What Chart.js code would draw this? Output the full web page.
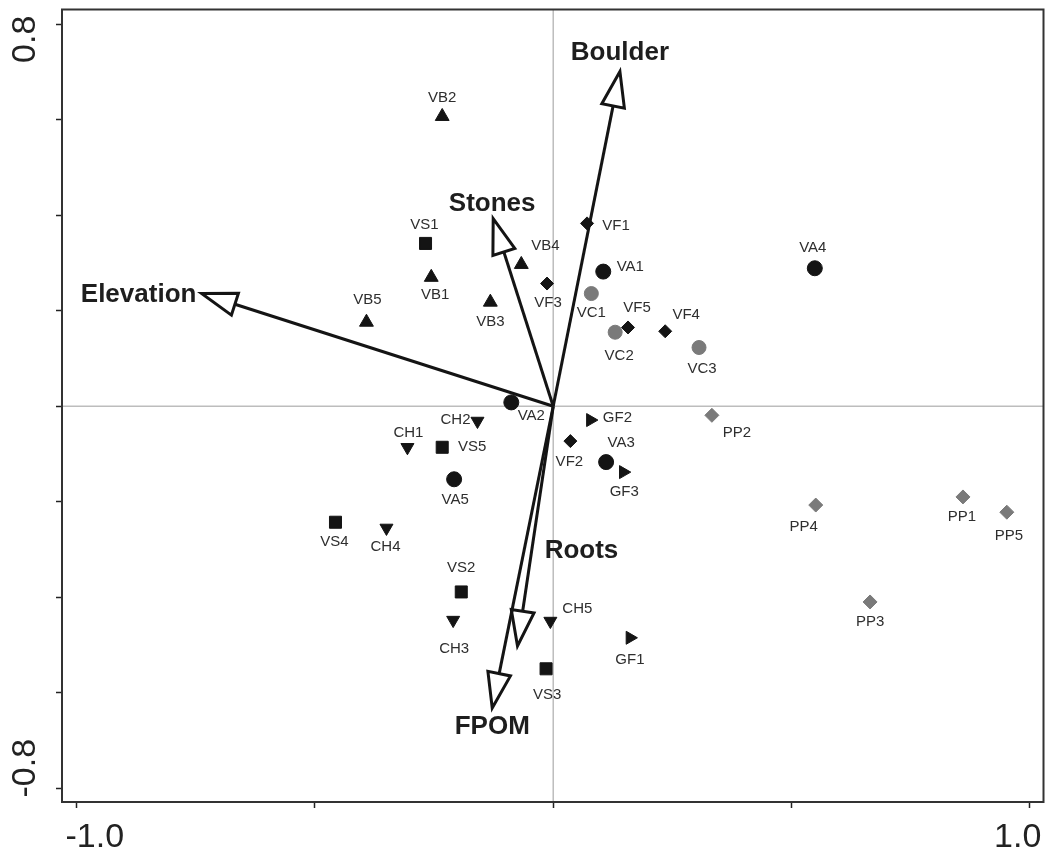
<!DOCTYPE html>
<html>
<head>
<meta charset="utf-8">
<script src="https://cdn.jsdelivr.net/npm/chart.js@4.4.1/dist/chart.umd.min.js"></script>
<style>
  html, body { margin: 0; padding: 0; background: #fff; }
  #wrap { width: 1053px; height: 858px; }
</style>
</head>
<body>
<div id="wrap"><canvas id="myChart" width="1053" height="858"></canvas></div>
<script>
// site scores, one group of arrays per site type
const vaNames = ["VA1", "VA2", "VA3", "VA4", "VA5"];
const vaX = [0.105, -0.088, 0.111, 0.549, -0.208];
const vaY = [0.282, 0.008, -0.117, 0.289, -0.153];

const vbNames = ["VB1", "VB2", "VB3", "VB4", "VB5"];
const vbX = [-0.256, -0.233, -0.132, -0.067, -0.392];
const vbY = [0.270, 0.607, 0.218, 0.297, 0.176];

const vsNames = ["VS1", "VS2", "VS3", "VS4", "VS5"];
const vsX = [-0.268, -0.193, -0.015, -0.457, -0.233];
const vsY = [0.341, -0.389, -0.550, -0.243, -0.086];

const vfNames = ["VF1", "VF2", "VF3", "VF4", "VF5"];
const vfX = [0.071, 0.036, -0.013, 0.235, 0.157];
const vfY = [0.383, -0.073, 0.257, 0.157, 0.165];

const vcNames = ["VC1", "VC2", "VC3"];
const vcX = [0.080, 0.130, 0.306];
const vcY = [0.236, 0.155, 0.123];

const ppNames = ["PP1", "PP2", "PP3", "PP4", "PP5"];
const ppX = [0.860, 0.333, 0.665, 0.551, 0.952];
const ppY = [-0.190, -0.019, -0.410, -0.207, -0.222];

const chNames = ["CH1", "CH2", "CH3", "CH4", "CH5"];
const chX = [-0.306, -0.159, -0.210, -0.350, -0.006];
const chY = [-0.086, -0.031, -0.448, -0.255, -0.450];

const gfNames = ["GF1", "GF2", "GF3"];
const gfX = [0.161, 0.078, 0.147];
const gfY = [-0.485, -0.029, -0.138];

// environmental vectors
const envNames = ["Boulder", "Stones", "Elevation", "Roots", "FPOM"];
const envX = [0.140, -0.126, -0.738, -0.075, -0.128];
const envY = [0.701, 0.393, 0.236, -0.502, -0.632];

// tick marks and the labelled ends
const xTicks = [-1.0, -0.5, 0, 0.5, 1.0];
const yTicks = [-0.8, -0.6, -0.4, -0.2, 0, 0.2, 0.4, 0.6, 0.8];
const xTickLabels = ["-1.0", "1.0"];
const yTickLabels = ["0.8", "-0.8"];

// label placement (pixel offset of label centre from the mark)
const siteLabelOffset = {
  VA1: [27, -5], VA2: [20, 13], VA3: [15, -19], VA4: [-2, -20], VA5: [1, 21],
  VB1: [4, 18], VB2: [0, -19], VB3: [0, 20], VB4: [24, -19], VB5: [1, -22],
  VS1: [-1, -19], VS2: [0, -24], VS3: [1, 26], VS4: [-1, 20], VS5: [30, 0],
  VF1: [29, 2], VF2: [-1, 21], VF3: [1, 19], VF4: [21, -16], VF5: [9, -20],
  VC1: [0, 19], VC2: [4, 24], VC3: [3, 21],
  PP1: [-1, 20], PP2: [25, 18], PP3: [0, 20], PP4: [-12, 22], PP5: [2, 24],
  CH1: [1, -14], CH2: [-22, -1], CH3: [1, 29], CH4: [-1, 19], CH5: [27, -12],
  GF1: [0, 22], GF2: [27, -2], GF3: [1, 20],
};
const envLabelOffset = {
  Boulder: [0, -19], Stones: [-1, -15], Elevation: [-63, 1], Roots: [64, -95], FPOM: [0, 19],
};

const FONT = "'Liberation Sans', Arial, sans-serif";
const BLACK = "#141414";
const GREY = "#7a7a7a";

const pts = (xs, ys) => xs.map((x, i) => ({ x: x, y: ys[i] }));

const group = (names, xs, ys, style, color, radius, rotation) => ({
  names: names,
  data: pts(xs, ys),
  pointStyle: style,
  pointRotation: rotation || 0,
  pointRadius: radius,
  backgroundColor: color,
  borderColor: color,
  borderWidth: 1,
  showLine: false,
});

const datasets = [
  group(vaNames, vaX, vaY, "circle", BLACK, 7.5),
  group(vbNames, vbX, vbY, "triangle", BLACK, 8),
  group(vsNames, vsX, vsY, "rect", BLACK, 8.5),
  group(vfNames, vfX, vfY, "rectRot", BLACK, 6.5),
  group(vcNames, vcX, vcY, "circle", GREY, 7),
  group(ppNames, ppX, ppY, "rectRot", GREY, 7),
  group(chNames, chX, chY, "triangle", BLACK, 7.5, 180),
  group(gfNames, gfX, gfY, "triangle", BLACK, 7.5, 90),
];

const biplot = {
  id: "biplot",
  beforeDatasetsDraw(chart) {
    const { ctx, chartArea: a, scales: { x, y } } = chart;
    const ox = x.getPixelForValue(0);
    const oy = y.getPixelForValue(0);
    ctx.save();
    // zero lines
    ctx.strokeStyle = "#bdbdbd";
    ctx.lineWidth = 1.5;
    ctx.beginPath();
    ctx.moveTo(ox, a.top); ctx.lineTo(ox, a.bottom);
    ctx.moveTo(a.left, oy); ctx.lineTo(a.right, oy);
    ctx.stroke();

    // arrows
    const headLen = 35, headHalf = 11.5;
    ctx.strokeStyle = BLACK;
    ctx.lineWidth = 3;
    ctx.lineJoin = "miter";
    envNames.forEach((name, i) => {
      const tx = x.getPixelForValue(envX[i]);
      const ty = y.getPixelForValue(envY[i]);
      const len = Math.hypot(tx - ox, ty - oy);
      const ux = (tx - ox) / len, uy = (ty - oy) / len;
      const bx = tx - ux * headLen, by = ty - uy * headLen;
      ctx.beginPath();
      ctx.moveTo(ox, oy);
      ctx.lineTo(bx, by);
      ctx.stroke();
      ctx.beginPath();
      ctx.moveTo(tx, ty);
      ctx.lineTo(bx - uy * headHalf, by + ux * headHalf);
      ctx.lineTo(bx + uy * headHalf, by - ux * headHalf);
      ctx.closePath();
      ctx.fillStyle = "#fff";
      ctx.fill();
      ctx.stroke();
    });
    ctx.restore();
  },
  afterDatasetsDraw(chart) {
    const { ctx, chartArea: a, scales: { x, y } } = chart;
    ctx.save();
    ctx.textAlign = "center";
    ctx.textBaseline = "middle";

    // site labels
    ctx.font = "15px " + FONT;
    ctx.fillStyle = "#2e2e2e";
    chart.data.datasets.forEach((ds, di) => {
      const meta = chart.getDatasetMeta(di);
      ds.names.forEach((name, i) => {
        const p = meta.data[i];
        const off = siteLabelOffset[name] || [0, 18];
        ctx.fillText(name, p.x + off[0], p.y + off[1]);
      });
    });

    // vector labels
    ctx.font = "bold 26px " + FONT;
    ctx.fillStyle = "#1e1e1e";
    envNames.forEach((name, i) => {
      const off = envLabelOffset[name];
      ctx.fillText(name, x.getPixelForValue(envX[i]) + off[0], y.getPixelForValue(envY[i]) + off[1]);
    });

    // frame
    ctx.strokeStyle = "#333";
    ctx.lineWidth = 2;
    ctx.strokeRect(a.left, a.top, a.right - a.left, a.bottom - a.top);

    // end tick labels
    ctx.font = "34px " + FONT;
    ctx.fillStyle = "#222";
    ctx.fillText(xTickLabels[0], x.getPixelForValue(xTicks[0]) + 18, 838);
    ctx.fillText(xTickLabels[1], x.getPixelForValue(xTicks[xTicks.length - 1]) - 12, 838);
    const yTop = y.getPixelForValue(yTicks[yTicks.length - 1]) + 15;
    const yBot = y.getPixelForValue(yTicks[0]) - 20;
    [[yTickLabels[0], yTop], [yTickLabels[1], yBot]].forEach(([t, py]) => {
      ctx.save();
      ctx.translate(26, py);
      ctx.rotate(-Math.PI / 2);
      ctx.fillText(t, 0, 0);
      ctx.restore();
    });
    ctx.restore();
  },
};

const ctx = document.getElementById("myChart");
new Chart(ctx, {
  type: "scatter",
  data: { datasets: datasets },
  plugins: [biplot],
  options: {
    responsive: false,
    animation: false,
    events: [],
    layout: { padding: { top: 8, right: 8, left: 0, bottom: 0 } },
    plugins: { legend: { display: false }, tooltip: { enabled: false } },
    scales: {
      x: {
        type: "linear",
        min: -1.031,
        max: 1.029,
        afterBuildTicks: (s) => { s.ticks = xTicks.map((v) => ({ value: v })); },
        afterFit: (s) => { s.height = 56; },
        ticks: { callback: () => "", padding: 0 },
        grid: { drawOnChartArea: false, drawTicks: true, tickLength: 6, tickColor: "#222", tickWidth: 1.5 },
        border: { display: true, color: "#222", width: 2 },
      },
      y: {
        type: "linear",
        min: -0.829,
        max: 0.831,
        afterBuildTicks: (s) => { s.ticks = yTicks.map((v) => ({ value: v })); },
        afterFit: (s) => { s.width = 62; },
        ticks: { callback: () => "", padding: 0 },
        grid: { drawOnChartArea: false, drawTicks: true, tickLength: 6, tickColor: "#222", tickWidth: 1.5 },
        border: { display: true, color: "#222", width: 2 },
      },
    },
  },
});
</script>
</body>
</html>
